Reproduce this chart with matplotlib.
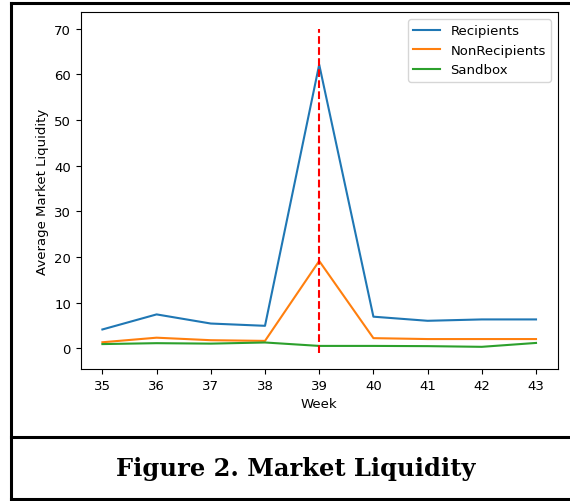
import numpy as np
import matplotlib
matplotlib.use("Agg")
import matplotlib.pyplot as plt
from matplotlib.lines import Line2D

weeks = [35, 36, 37, 38, 39, 40, 41, 42, 43]
recipients = [4.1, 7.4, 5.4, 4.9, 62.1, 6.9, 6.0, 6.3, 6.3]
non_recipients = [1.3, 2.3, 1.75, 1.6, 19.1, 2.2, 2.0, 2.0, 2.0]
sandbox = [0.9, 1.1, 1.0, 1.25, 0.5, 0.5, 0.45, 0.3, 1.15]
event_week = 39

plt.rcParams["font.size"] = 9.5

fig = plt.figure(figsize=(5.7, 5.02), dpi=100)
ax = fig.add_axes([0.1416, 0.263, 0.8368, 0.7105])

ax.plot(weeks, recipients, label="Recipients")
ax.plot(weeks, non_recipients, label="NonRecipients")
ax.plot(weeks, sandbox, label="Sandbox")
ax.vlines(event_week, -1, 70, colors="red", linestyles="--")
ax.set_xlabel("Week")
ax.set_ylabel("Average Market Liquidity")
ax.legend(loc="upper right")

# frame around figure + caption box
lw = 2.2
x0 = 0.0193
fig.add_artist(Line2D([x0, 1.01], [0.9914, 0.9914], color="black", lw=lw))
fig.add_artist(Line2D([x0, 1.01], [0.1275, 0.1275], color="black", lw=lw))
fig.add_artist(Line2D([x0, 1.01], [0.003, 0.003], color="black", lw=lw))
fig.add_artist(Line2D([x0, x0], [0.003, 0.9914], color="black", lw=lw))

fig.text(0.519, 0.066, "Figure 2. Market Liquidity", ha="center", va="center",
         fontsize=17.4, fontweight="bold", family="DejaVu Serif")

fig.savefig("out.png", dpi=100)
